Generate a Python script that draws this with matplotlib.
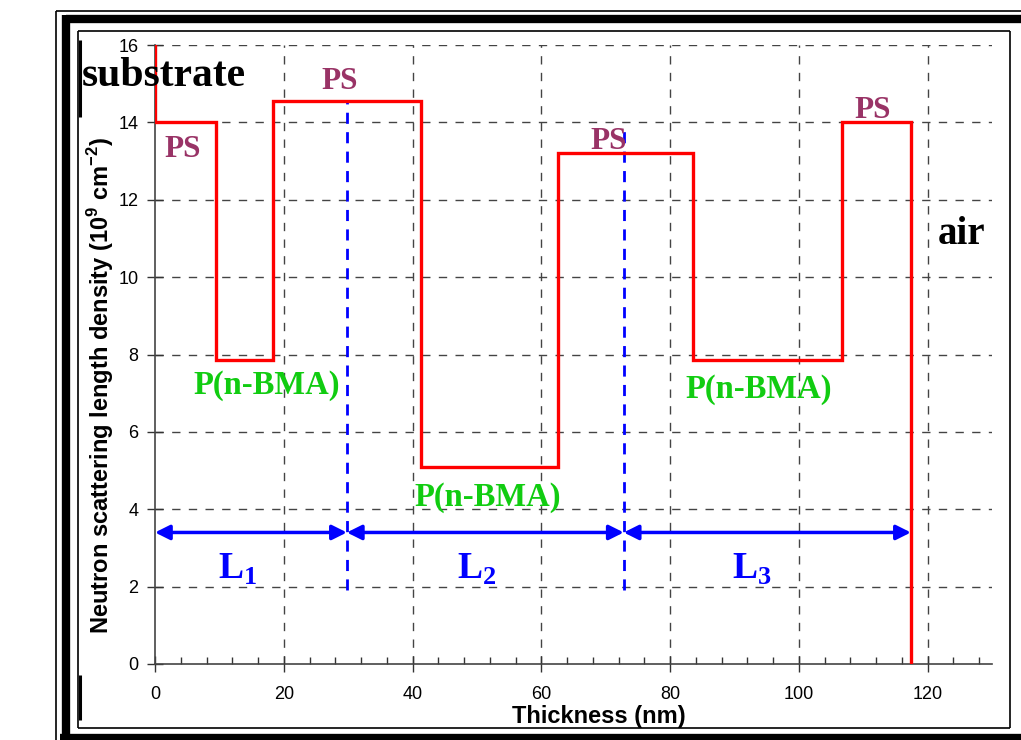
import matplotlib
matplotlib.use("Agg")
import matplotlib.pyplot as plt
from matplotlib.ticker import MultipleLocator
from matplotlib.lines import Line2D

plt.rcParams['mathtext.fontset'] = 'custom'
plt.rcParams['mathtext.rm'] = 'Liberation Serif:bold'
plt.rcParams['mathtext.bf'] = 'Liberation Sans:bold'

# ---- data ----
layer_edges = [0, 9.5, 18.3, 41.3, 62.6, 83.5, 106.7, 117.4]   # nm
layer_sld = [14.0, 7.85, 14.55, 5.1, 13.2, 7.85, 14.0]         # 1e9 cm^-2
substrate_sld = 16.0
air_sld = 0.0

period_bounds = [0, 29.8, 72.8, 117.4]
period_labels = ['L$_{\\mathrm{1}}$', 'L$_{\\mathrm{2}}$', 'L$_{\\mathrm{3}}$']
period_label_x = [12.9, 50.0, 92.7]
arrow_y = 3.4
divider_tops = [14.55, 13.8]
divider_bottom = 1.9

ps_labels_xy = [(4.3, 13.3), (28.7, 15.05), (70.5, 13.5), (111.5, 14.3)]
pbma_labels_xy = [(17.4, 7.2), (51.6, 4.3), (93.8, 7.1)]

x_ticks = [0, 20, 40, 60, 80, 100, 120]
y_ticks = [0, 2, 4, 6, 8, 10, 12, 14, 16]

W, H = 1021, 740
fig = plt.figure(figsize=(W / 100, H / 100), dpi=100)
ax = fig.add_axes([155 / W, 1 - 664 / H, (992 - 155) / W, (664 - 45) / H])

# step profile
xs = [layer_edges[0]]
ys = [substrate_sld]
for i, v in enumerate(layer_sld):
    xs += [layer_edges[i], layer_edges[i + 1]]
    ys += [v, v]
xs.append(layer_edges[-1])
ys.append(air_sld)
ax.plot(xs, ys, color='#ff0000', lw=2.4, zorder=5, solid_joinstyle='miter')

ax.set_xlim(0, 130)
ax.set_ylim(0, 16)
ax.set_xticks(x_ticks)
ax.set_yticks(y_ticks)
ax.xaxis.set_minor_locator(MultipleLocator(4))
ax.tick_params(axis='x', which='major', direction='inout', length=12, width=1, color='#333333',
               labelsize=13, pad=10)
ax.tick_params(axis='x', which='minor', direction='in', length=5, width=1, color='#333333')
ax.tick_params(axis='y', which='major', direction='inout', length=12, width=1, color='#333333',
               labelsize=13, pad=6)
for lab in ax.get_xticklabels() + ax.get_yticklabels():
    lab.set_fontfamily('Liberation Sans')
for s in ['top', 'right']:
    ax.spines[s].set_visible(False)
for s in ['left', 'bottom']:
    ax.spines[s].set_color('#444444')
    ax.spines[s].set_linewidth(1.2)

# grid
for xv in x_ticks[1:]:
    ax.axvline(xv, color='#444444', lw=1, ls=(0, (6, 6)), zorder=1)
for yv in y_ticks[1:]:
    ax.axhline(yv, color='#444444', lw=1, ls=(0, (6, 6)), zorder=1)

# dividers
for xb, top in zip(period_bounds[1:3], divider_tops):
    ax.plot([xb, xb], [divider_bottom, top], color='#0000ff', lw=2, ls=(0, (4, 3)), zorder=4)

# arrows
for a, b in zip(period_bounds[:-1], period_bounds[1:]):
    ax.annotate('', xy=(b, arrow_y), xytext=(a, arrow_y),
                arrowprops=dict(arrowstyle='<|-|>', color='#0000ff', lw=2.5,
                                mutation_scale=22, shrinkA=0, shrinkB=0), zorder=6)

for xl, lab in zip(period_label_x, period_labels):
    ax.text(xl, 2.45, lab, color='#0000ff', fontsize=27, fontfamily='Liberation Serif',
            fontweight='bold', ha='center', va='center', zorder=7)

for (px, py) in ps_labels_xy:
    ax.text(px, py, 'PS', color='#993366', fontsize=22.5, fontfamily='Liberation Serif',
            fontweight='bold', ha='center', va='center', zorder=7)
for (px, py) in pbma_labels_xy:
    ax.text(px, py, 'P(n-BMA)', color='#11cc11', fontsize=23.5, fontfamily='Liberation Serif',
            fontweight='bold', ha='center', va='center', zorder=7)

ax.text(-11.3, 15.2, 'substrate', color='black', fontsize=30, fontfamily='Liberation Serif',
        fontweight='bold', ha='left', va='center', zorder=7, clip_on=False)
ax.text(125.2, 11.1, 'air', color='black', fontsize=28, fontfamily='Liberation Serif',
        fontweight='bold', ha='center', va='center', zorder=7)

ax.set_xlabel('Thickness (nm)', fontsize=17, fontweight='bold', fontfamily='Liberation Sans')
ax.xaxis.set_label_coords((599 - 155) / (992 - 155), -(716 - 664) / (664 - 45))
ax.set_ylabel('Neutron scattering length density (10$^{\\mathbf{9}}$ cm$^{\\mathbf{-2}}$)',
              fontsize=17, fontweight='bold', fontfamily='Liberation Sans')
ax.yaxis.set_label_coords(-(155 - 101) / (992 - 155), (664 - 386) / (664 - 45))
ax.yaxis.label.set_va('center')
ax.xaxis.label.set_va('center')

# decorative frame (pixel coords)
def fx(x):
    return x / W

def fy(y):
    return 1 - y / H

def frame_line(xa, ya, xb, yb, lw):
    fig.add_artist(Line2D([fx(xa), fx(xb)], [fy(ya), fy(yb)], transform=fig.transFigure,
                          color='black', lw=lw, solid_capstyle='butt'))

# outer thin
frame_line(56, 11, 1030, 11, 1.2)
frame_line(56, 11, 56, 750, 1.2)
# thick
frame_line(66, 19, 1030, 19, 6)
frame_line(66, 15, 66, 750, 6)
frame_line(60, 738, 1030, 738, 6)
# inner thin
frame_line(78, 31, 1010, 31, 1.2)
frame_line(78, 31, 78, 728, 1.2)
frame_line(1010, 31, 1010, 728, 1.2)
frame_line(78, 728, 1010, 728, 1.2)
# small bars
frame_line(80, 40, 80, 117, 2.2)
frame_line(80, 675, 80, 720, 2.2)

fig.savefig('out.png', dpi=100)
